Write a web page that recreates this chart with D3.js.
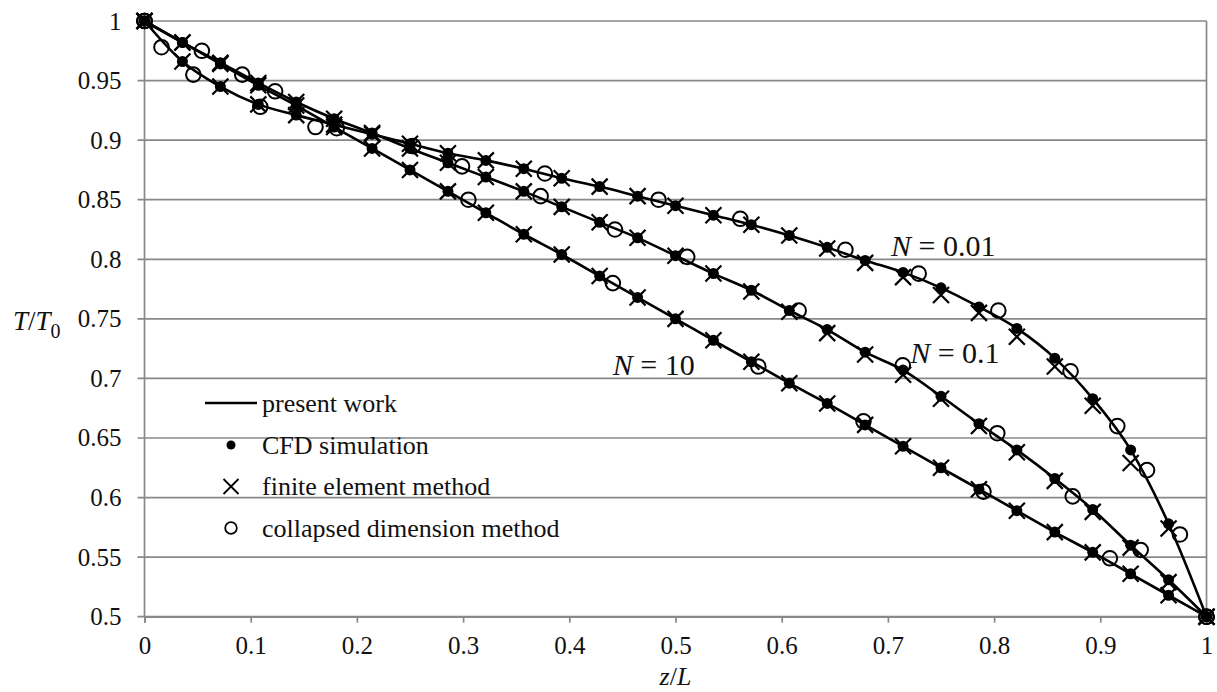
<!DOCTYPE html>
<html>
<head>
<meta charset="utf-8">
<script src="https://cdn.jsdelivr.net/npm/d3@7"></script>
<style>
  body { margin: 0; background: #fff; }
  svg text { font-family: "Liberation Serif", "Times New Roman", serif !important; fill: #111; }
</style>
</head>
<body>
<svg width="1217" height="692"></svg>
<script>
// node positions z/L (i/28) shared by the CFD points, FEM points and the present-work lines
var zNodes = d3.range(29).map(function(i) { return i / 28; });

// N = 0.01  (present work / CFD)
var cfd001 = [1, 0.966, 0.945, 0.930, 0.921, 0.913, 0.905, 0.897, 0.889, 0.883,
              0.876, 0.868, 0.861, 0.853, 0.845, 0.837, 0.829, 0.820, 0.810, 0.799,
              0.789, 0.776, 0.760, 0.742, 0.717, 0.683, 0.640, 0.578, 0.5];
// N = 0.01  finite element method
var fem001 = [1, 0.966, 0.945, 0.930, 0.921, 0.913, 0.905, 0.897, 0.889, 0.883,
              0.876, 0.868, 0.861, 0.853, 0.845, 0.837, 0.829, 0.820, 0.809, 0.797,
              0.785, 0.770, 0.755, 0.735, 0.710, 0.677, 0.629, 0.574, 0.5];
// N = 0.01  collapsed dimension method
var cdmZ001 = [0, 0.016, 0.046, 0.109, 0.161, 0.253, 0.377, 0.484, 0.561, 0.660, 0.729, 0.804, 0.872, 0.916, 0.944, 0.975, 1];
var cdm001  = [1, 0.978, 0.955, 0.928, 0.911, 0.895, 0.872, 0.850, 0.834, 0.808, 0.788, 0.757, 0.706, 0.660, 0.623, 0.569, 0.5];

// N = 0.1
var cfd01 = [1, 0.982, 0.965, 0.948, 0.932, 0.918, 0.906, 0.893, 0.881, 0.869,
             0.857, 0.844, 0.831, 0.818, 0.803, 0.788, 0.774, 0.757, 0.741, 0.722,
             0.707, 0.685, 0.662, 0.640, 0.616, 0.590, 0.560, 0.531, 0.5];
var fem01 = [1, 0.982, 0.965, 0.948, 0.932, 0.918, 0.906, 0.893, 0.881, 0.869,
             0.857, 0.844, 0.831, 0.818, 0.803, 0.788, 0.773, 0.756, 0.738, 0.720,
             0.703, 0.683, 0.660, 0.638, 0.614, 0.588, 0.558, 0.529, 0.5];
var cdmZ01 = [0, 0.054, 0.092, 0.123, 0.299, 0.373, 0.443, 0.511, 0.616, 0.714, 0.803, 0.874, 0.938, 1];
var cdm01  = [1, 0.975, 0.955, 0.941, 0.878, 0.853, 0.825, 0.802, 0.757, 0.711, 0.654, 0.601, 0.556, 0.5];

// N = 10
var cfd10 = [1, 0.982, 0.964, 0.946, 0.929, 0.911, 0.893, 0.875, 0.857, 0.839,
             0.821, 0.804, 0.786, 0.768, 0.750, 0.732, 0.714, 0.696, 0.679, 0.661,
             0.643, 0.625, 0.607, 0.589, 0.571, 0.554, 0.536, 0.518, 0.5];
var fem10 = [1, 0.982, 0.964, 0.946, 0.929, 0.911, 0.893, 0.875, 0.857, 0.839,
             0.821, 0.804, 0.786, 0.768, 0.750, 0.732, 0.714, 0.696, 0.679, 0.661,
             0.643, 0.625, 0.607, 0.589, 0.571, 0.554, 0.536, 0.518, 0.5];
var cdmZ10 = [0, 0.181, 0.305, 0.441, 0.578, 0.677, 0.790, 0.909, 1];
var cdm10  = [1, 0.910, 0.850, 0.780, 0.710, 0.664, 0.605, 0.549, 0.5];

var xTicks = [0, 0.1, 0.2, 0.3, 0.4, 0.5, 0.6, 0.7, 0.8, 0.9, 1];
var yTicks = [0.5, 0.55, 0.6, 0.65, 0.7, 0.75, 0.8, 0.85, 0.9, 0.95, 1];
var legendLabels = ["present work", "CFD simulation", "finite element method", "collapsed dimension method"];
var curveLabels = [{n: "0.01", z: 0.703, t: 0.8028}, {n: "0.1", z: 0.721, t: 0.713}, {n: "10", z: 0.441, t: 0.703}];

var svg = d3.select("svg");
var gridColor = "#888";
var serif = "'Liberation Serif', 'Times New Roman', serif";

var x = d3.scaleLinear().domain([0, 1]).range([144.5, 1206.5]);
var y = d3.scaleLinear().domain([0.5, 1]).range([616.7, 21]);

// horizontal grid lines
svg.append("g")
  .selectAll("line")
  .data(yTicks)
  .enter().append("line")
    .attr("x1", x(0) - 7)
    .attr("x2", x(1))
    .attr("y1", function(d) { return y(d); })
    .attr("y2", function(d) { return y(d); })
    .attr("stroke", gridColor)
    .attr("stroke-width", 1.7);

// left axis, right border
svg.append("line").attr("x1", x(0)).attr("x2", x(0)).attr("y1", y(1)).attr("y2", y(0.5))
  .attr("stroke", gridColor).attr("stroke-width", 1.7);
svg.append("line").attr("x1", x(1)).attr("x2", x(1)).attr("y1", y(1)).attr("y2", y(0.5))
  .attr("stroke", gridColor).attr("stroke-width", 1.7);

// x axis ticks + labels
var xAxis = d3.axisBottom(x).tickValues(xTicks).tickSize(6).tickPadding(14)
  .tickFormat(function(d) { return d3.format("")(d); });
var gx = svg.append("g").attr("transform", "translate(0," + y(0.5) + ")").call(xAxis)
  .attr("font-family", serif);
gx.select(".domain").attr("stroke", gridColor).attr("stroke-width", 1.7);
gx.selectAll(".tick line").attr("stroke", gridColor).attr("stroke-width", 1.7);
gx.selectAll(".tick text").style("font-size", "25px").attr("fill", "#111");

// y axis labels
var yAxis = d3.axisLeft(y).tickValues(yTicks).tickSize(0).tickPadding(23)
  .tickFormat(function(d) { return d3.format("")(d); });
var gy = svg.append("g").attr("transform", "translate(" + x(0) + ",0)").call(yAxis)
  .attr("font-family", serif);
gy.select(".domain").remove();
gy.selectAll(".tick text").style("font-size", "25px").attr("fill", "#111");

// axis titles
var zt = svg.append("text").attr("x", (x(0) + x(1)) / 2).attr("y", 685)
  .attr("text-anchor", "middle").style("font-size", "26px");
zt.append("tspan").style("font-style", "italic").text("z");
zt.append("tspan").text("/");
zt.append("tspan").style("font-style", "italic").text("L");

var tt = svg.append("text").attr("x", 13).attr("y", 330).style("font-size", "27px");
tt.append("tspan").style("font-style", "italic").text("T");
tt.append("tspan").text("/");
tt.append("tspan").style("font-style", "italic").text("T");
tt.append("tspan").attr("dy", 8).style("font-size", "20px").text("0");

var series = [
  {cfd: cfd001, fem: fem001, cz: cdmZ001, cdm: cdm001},
  {cfd: cfd01, fem: fem01, cz: cdmZ01, cdm: cdm01},
  {cfd: cfd10, fem: fem10, cz: cdmZ10, cdm: cdm10}
];

var line = d3.line()
  .x(function(d) { return x(d[0]); })
  .y(function(d) { return y(d[1]); })
  .curve(d3.curveMonotoneX);

var crossPath = function(s) { return "M" + (-s) + "," + (-s) + "L" + s + "," + s + "M" + (-s) + "," + s + "L" + s + "," + (-s); };

series.forEach(function(s) {
  var pts = zNodes.map(function(z, i) { return [z, s.cfd[i]]; });
  svg.append("path").datum(pts)
    .attr("d", line)
    .attr("fill", "none")
    .attr("stroke", "#000")
    .attr("stroke-width", 2.6);

  // CFD dots
  svg.append("g").selectAll("circle")
    .data(pts)
    .enter().append("circle")
      .attr("cx", function(d) { return x(d[0]); })
      .attr("cy", function(d) { return y(d[1]); })
      .attr("r", 5.5)
      .attr("fill", "#000");

  // FEM crosses
  svg.append("g").selectAll("path")
    .data(zNodes.map(function(z, i) { return [z, s.fem[i]]; }))
    .enter().append("path")
      .attr("transform", function(d) { return "translate(" + x(d[0]) + "," + y(d[1]) + ")"; })
      .attr("d", crossPath(8))
      .attr("stroke", "#000")
      .attr("stroke-width", 2.2);

  // CDM circles
  svg.append("g").selectAll("circle")
    .data(s.cz.map(function(z, i) { return [z, s.cdm[i]]; }))
    .enter().append("circle")
      .attr("cx", function(d) { return x(d[0]); })
      .attr("cy", function(d) { return y(d[1]); })
      .attr("r", 7.3)
      .attr("fill", "none")
      .attr("stroke", "#000")
      .attr("stroke-width", 2);
});

// curve labels
svg.append("g").selectAll("text")
  .data(curveLabels)
  .enter().append("text")
    .attr("x", function(d) { return x(d.z); })
    .attr("y", function(d) { return y(d.t); })
    .style("font-size", "30px")
    .each(function(d) {
      var t = d3.select(this);
      t.append("tspan").style("font-style", "italic").text("N");
      t.append("tspan").text(" = " + d.n);
    });

// legend
var lg = svg.append("g");
var rowY = [403, 445, 486.5, 528];
lg.append("line").attr("x1", 205).attr("x2", 257).attr("y1", rowY[0]).attr("y2", rowY[0])
  .attr("stroke", "#000").attr("stroke-width", 2.4);
lg.append("circle").attr("cx", 231).attr("cy", rowY[1]).attr("r", 4.5).attr("fill", "#000");
lg.append("path").attr("transform", "translate(231," + rowY[2] + ")").attr("d", crossPath(7.5))
  .attr("stroke", "#000").attr("stroke-width", 1.8);
lg.append("circle").attr("cx", 231).attr("cy", rowY[3]).attr("r", 5.8)
  .attr("fill", "none").attr("stroke", "#000").attr("stroke-width", 1.8);
lg.selectAll("text")
  .data(legendLabels)
  .enter().append("text")
    .attr("x", 262)
    .attr("y", function(d, i) { return rowY[i] + 8.5; })
    .style("font-size", "26px")
    .text(function(d) { return d; });
</script>
</body>
</html>
